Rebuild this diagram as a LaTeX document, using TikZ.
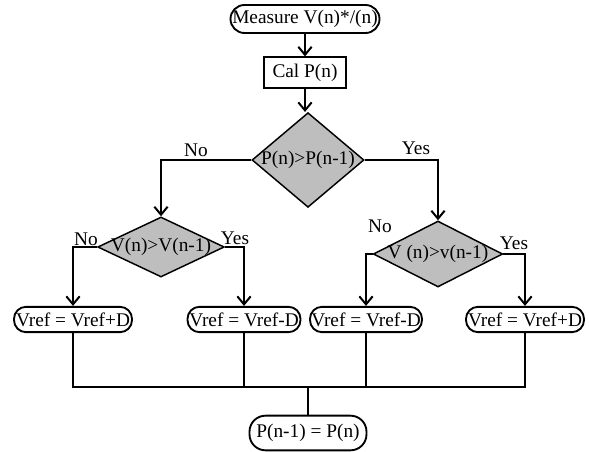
\documentclass[tikz,border=0pt]{standalone}
\usepackage{fontspec}
\setmainfont{Liberation Serif}
\usetikzlibrary{shapes.geometric,arrows.meta}

\definecolor{decgray}{RGB}{190,190,190}

\tikzset{
  term/.style={draw, line width=1.4pt, rectangle, rounded corners=#1, inner sep=0pt},
  term/.default=9pt,
  proc/.style={draw, line width=1.2pt, rectangle, inner sep=0pt},
  dec/.style={draw, line width=1.1pt, diamond, fill=decgray, inner sep=0pt},
  lbl/.style={inner sep=0pt},
  arr/.style={line width=1.2pt, -{Straight Barb[length=6pt,width=10pt,line width=1.5pt]}},
  ln/.style={line width=1.2pt}
}

\begin{document}
\begin{tikzpicture}[x=0.75pt, y=-0.75pt, font=\fontsize{14.5}{16}\selectfont]

  \useasboundingbox (0,0) rectangle (589,452);

  % Top of the chart
  \node[term=10.5pt, minimum width=111.75pt, minimum height=21pt] (meas) at (305,19) {Measure V(n)*/(n)};
  \node[proc, minimum width=61.5pt, minimum height=23pt] (calc) at (305,72.5) {Cal P(n)};

  % Decisions
  \node[dec, minimum width=84pt, minimum height=71pt, label=center:{P(n)>P(n-1)}] (dp) at (308,160) {};
  \node[dec, minimum width=95pt, minimum height=45pt, label=center:{V(n)>V(n-1)}] (dvl) at (161,247) {};
  \node[dec, minimum width=97pt, minimum height=49.5pt, label=center:{V (n)>v(n-1)}] (dvr) at (438,254) {};

  % Branch labels
  \node[lbl] (nop)  at (196,150) {No};
  \node[lbl] (yesp) at (416,148) {Yes};
  \node[lbl] (nol)  at (86,239)  {No};
  \node[lbl] (yesl) at (235,238) {Yes};
  \node[lbl] (nor)  at (380,226) {No};
  \node[lbl] (yesr) at (514,243) {Yes};

  % Vref updates
  \node[term, minimum width=88.5pt, minimum height=19pt] (up1) at (73,319.5)  {Vref = Vref+D};
  \node[term, minimum width=84.75pt, minimum height=19pt] (dn1) at (244,319.5) {Vref = Vref-D};
  \node[term, minimum width=84pt, minimum height=19pt] (dn2) at (366,319.5) {Vref = Vref-D};
  \node[term, minimum width=88.5pt, minimum height=19pt] (up2) at (525,319.5) {Vref = Vref+D};

  % End
  \node[term=12pt, minimum width=87.75pt, minimum height=26pt] (fin) at (308,433) {P(n-1) = P(n)};

  % Connectors
  \draw[arr] (meas) -- (calc);
  \draw[arr] (calc.south) -- (calc.south |- dp.north);
  \draw[arr] (dp.west) -| (dvl.north);
  \draw[arr] (dp.east) -| (dvr.north);
  \draw[arr] (dvl.west) -| (up1.north);
  \draw[arr] (dvl.east) -| (dn1.north);
  \draw[arr] (dvr.west) -| (dn2.north);
  \draw[arr] (dvr.east) -| (up2.north);

  \coordinate (jn) at (308,387);
  \draw[ln] (up1.south) |- (jn) -| (up2.south);
  \draw[ln] (dn1.south) -- (dn1.south |- jn);
  \draw[ln] (dn2.south) -- (dn2.south |- jn);
  \draw[ln] (jn) -- (fin.north);

\end{tikzpicture}
\end{document}
